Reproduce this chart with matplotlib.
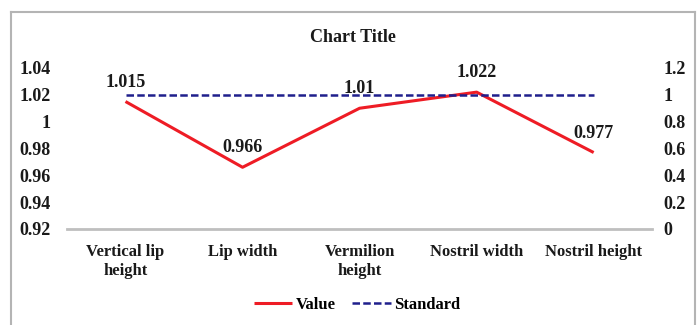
import matplotlib.pyplot as plt
from matplotlib.lines import Line2D

plt.rcParams['font.family'] = ['Liberation Serif', 'DejaVu Serif']
plt.rcParams['font.weight'] = 'bold'

categories = ["Vertical lip\nheight", "Lip width", "Vermilion\nheight", "Nostril width", "Nostril height"]
value = [1.015, 0.966, 1.01, 1.022, 0.977]
standard = [1, 1, 1, 1, 1]

left_ticks = [0.92, 0.94, 0.96, 0.98, 1.00, 1.02, 1.04]
left_labels = ["0.92", "0.94", "0.96", "0.98", "1", "1.02", "1.04"]
right_ticks = [0, 0.2, 0.4, 0.6, 0.8, 1.0, 1.2]
right_labels = ["0", "0.2", "0.4", "0.6", "0.8", "1", "1.2"]

fig = plt.figure(figsize=(7, 3.25), dpi=100)
ax = fig.add_axes([0.0957, 0.2954, 0.836, 0.4954])
ax2 = ax.twinx()

x = range(len(categories))
ax.plot(x, value, color='#ee1c25', lw=2.2, solid_capstyle='butt', label='Value', zorder=3)
ax2.plot(x, standard, color='#1f1f8c', lw=1.8, ls=(0, (3, 1.3)), label='Standard')

for i, v in enumerate(value):
    ax.annotate(f"{v:g}", (i, v), xytext=(0, 14), textcoords='offset points',
                ha='center', va='center', fontsize=13, fontweight='bold', color='#1a1a1a')

ax.set_xlim(-0.5, len(categories) - 0.5)
ax.set_ylim(0.92, 1.04)
ax2.set_ylim(0, 1.2)

ax.set_xticks(list(x))
ax.set_xticklabels(categories, fontsize=12, fontweight='bold', color='#1a1a1a')
ax.set_yticks(left_ticks)
ax.set_yticklabels(left_labels, fontsize=13, fontweight='bold', color='#1a1a1a')
ax2.set_yticks(right_ticks)
ax2.set_yticklabels(right_labels, fontsize=13, fontweight='bold', color='#1a1a1a')

ax.tick_params(axis='x', length=0, pad=11)
ax.tick_params(axis='y', length=0, pad=12)
ax2.tick_params(axis='y', length=0, pad=8)

for a in (ax, ax2):
    for s in ('top', 'left', 'right', 'bottom'):
        a.spines[s].set_visible(False)
ax.spines['bottom'].set_visible(True)
ax.spines['bottom'].set_color('#bfbfbf')
ax.spines['bottom'].set_linewidth(2)

fig.text(0.504, 1 - 38 / 325, "Chart Title", ha='center', va='center',
         fontsize=13, fontweight='bold', color='#1a1a1a')

# outer chart-area border (open at the bottom)
bx0, bx1, by1 = 10.5 / 700, 695 / 700, 1 - 12 / 325
for xs, ys in [([bx0, bx0], [0, by1]), ([bx0, bx1], [by1, by1]), ([bx1, bx1], [by1, 0])]:
    fig.add_artist(Line2D(xs, ys, transform=fig.transFigure, color='#b4b4b4', lw=1.5))

h1, l1 = ax.get_legend_handles_labels()
h2, l2 = ax2.get_legend_handles_labels()
fig.legend(h1 + h2, l1 + l2, loc='center', bbox_to_anchor=(0.51, 1 - 305 / 325), ncol=2,
           frameon=False, handlelength=2.3, handletextpad=0.2, columnspacing=1.0,
           prop={'weight': 'bold', 'size': 12})

fig.savefig("out.png", dpi=100)
